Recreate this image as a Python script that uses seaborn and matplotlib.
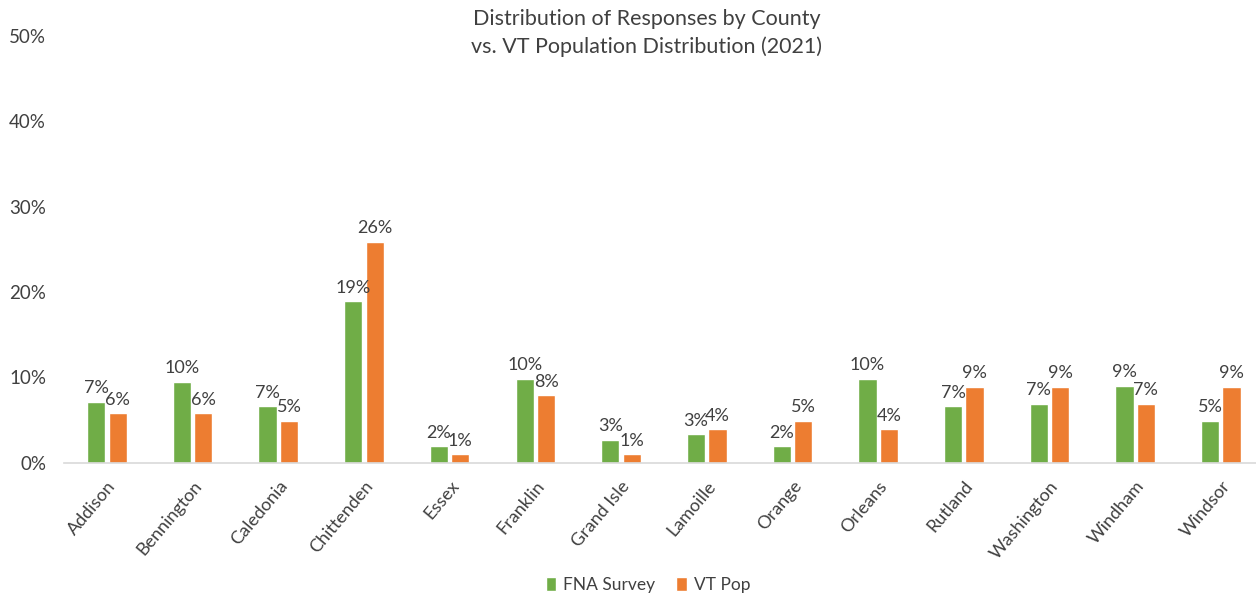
import matplotlib
matplotlib.use("Agg")
import matplotlib.pyplot as plt
import seaborn as sns
import pandas as pd
from matplotlib.patches import Patch

counties = ["Addison", "Bennington", "Caledonia", "Chittenden", "Essex", "Franklin",
            "Grand Isle", "Lamoille", "Orange", "Orleans", "Rutland", "Washington",
            "Windham", "Windsor"]
fna_survey = [7.1, 9.5, 6.6, 18.9, 1.9, 9.8, 2.7, 3.3, 1.9, 9.8, 6.6, 6.9, 9.0, 4.9]
vt_pop = [5.8, 5.8, 4.9, 25.9, 1.0, 7.9, 1.0, 3.9, 4.9, 3.9, 8.9, 8.9, 6.9, 8.9]
series_names = ["FNA Survey", "VT Pop"]
y_ticks = [0, 10, 20, 30, 40, 50]

colors = {"FNA Survey": "#70AD47", "VT Pop": "#ED7D31"}
text_color = "#404040"

df = pd.DataFrame({
    "County": counties * 2,
    "Series": [series_names[0]] * len(counties) + [series_names[1]] * len(counties),
    "Value": fna_survey + vt_pop,
})

sns.set_theme(style="white")
plt.rcParams["font.family"] = ["Lato", "DejaVu Sans"]

fig = plt.figure(figsize=(12.56, 6.0), dpi=100)
ax = fig.add_axes([0.051, 0.229, 0.949, 0.711])

sns.barplot(data=df, x="County", y="Value", hue="Series", order=counties,
            hue_order=series_names, palette=colors, width=0.5, gap=0.15,
            ax=ax, legend=False, saturation=1)

# value labels above each bar
for container in ax.containers:
    labels = [f"{v:.0f}%" for v in container.datavalues]
    ax.bar_label(container, labels=labels, padding=4, fontsize=13, color=text_color)

ax.set_ylim(0, 50)
ax.set_xlim(-0.5, 13.41)
ax.set_yticks(y_ticks)
ax.set_yticklabels([f"{t}%" for t in y_ticks], fontsize=13.5, color=text_color)
ax.tick_params(axis="y", length=0, pad=13)
ax.tick_params(axis="x", length=0, pad=11)
ax.set_xticks(range(len(counties)))
ax.set_xticklabels(counties, rotation=50, ha="right", rotation_mode="anchor",
                   fontsize=13, color=text_color)
ax.set_xlabel("")
ax.set_ylabel("")

for side in ["left", "right", "top"]:
    ax.spines[side].set_visible(False)
ax.spines["bottom"].set_color("#D9D9D9")
ax.spines["bottom"].set_linewidth(1.2)

fig.text(0.515, 0.985, "Distribution of Responses by County\nvs. VT Population Distribution (2021)",
         ha="center", va="top", fontsize=15.5, color=text_color, linespacing=1.45)

handles = [Patch(facecolor=colors[s], label=s) for s in series_names]
fig.legend(handles=handles, loc="center", bbox_to_anchor=(0.516, 0.025), ncol=2,
           frameon=False, fontsize=12.5, handlelength=0.6, handleheight=0.9,
           handletextpad=0.4, columnspacing=1.2, labelcolor=text_color)

fig.savefig("out.png", dpi=100)
